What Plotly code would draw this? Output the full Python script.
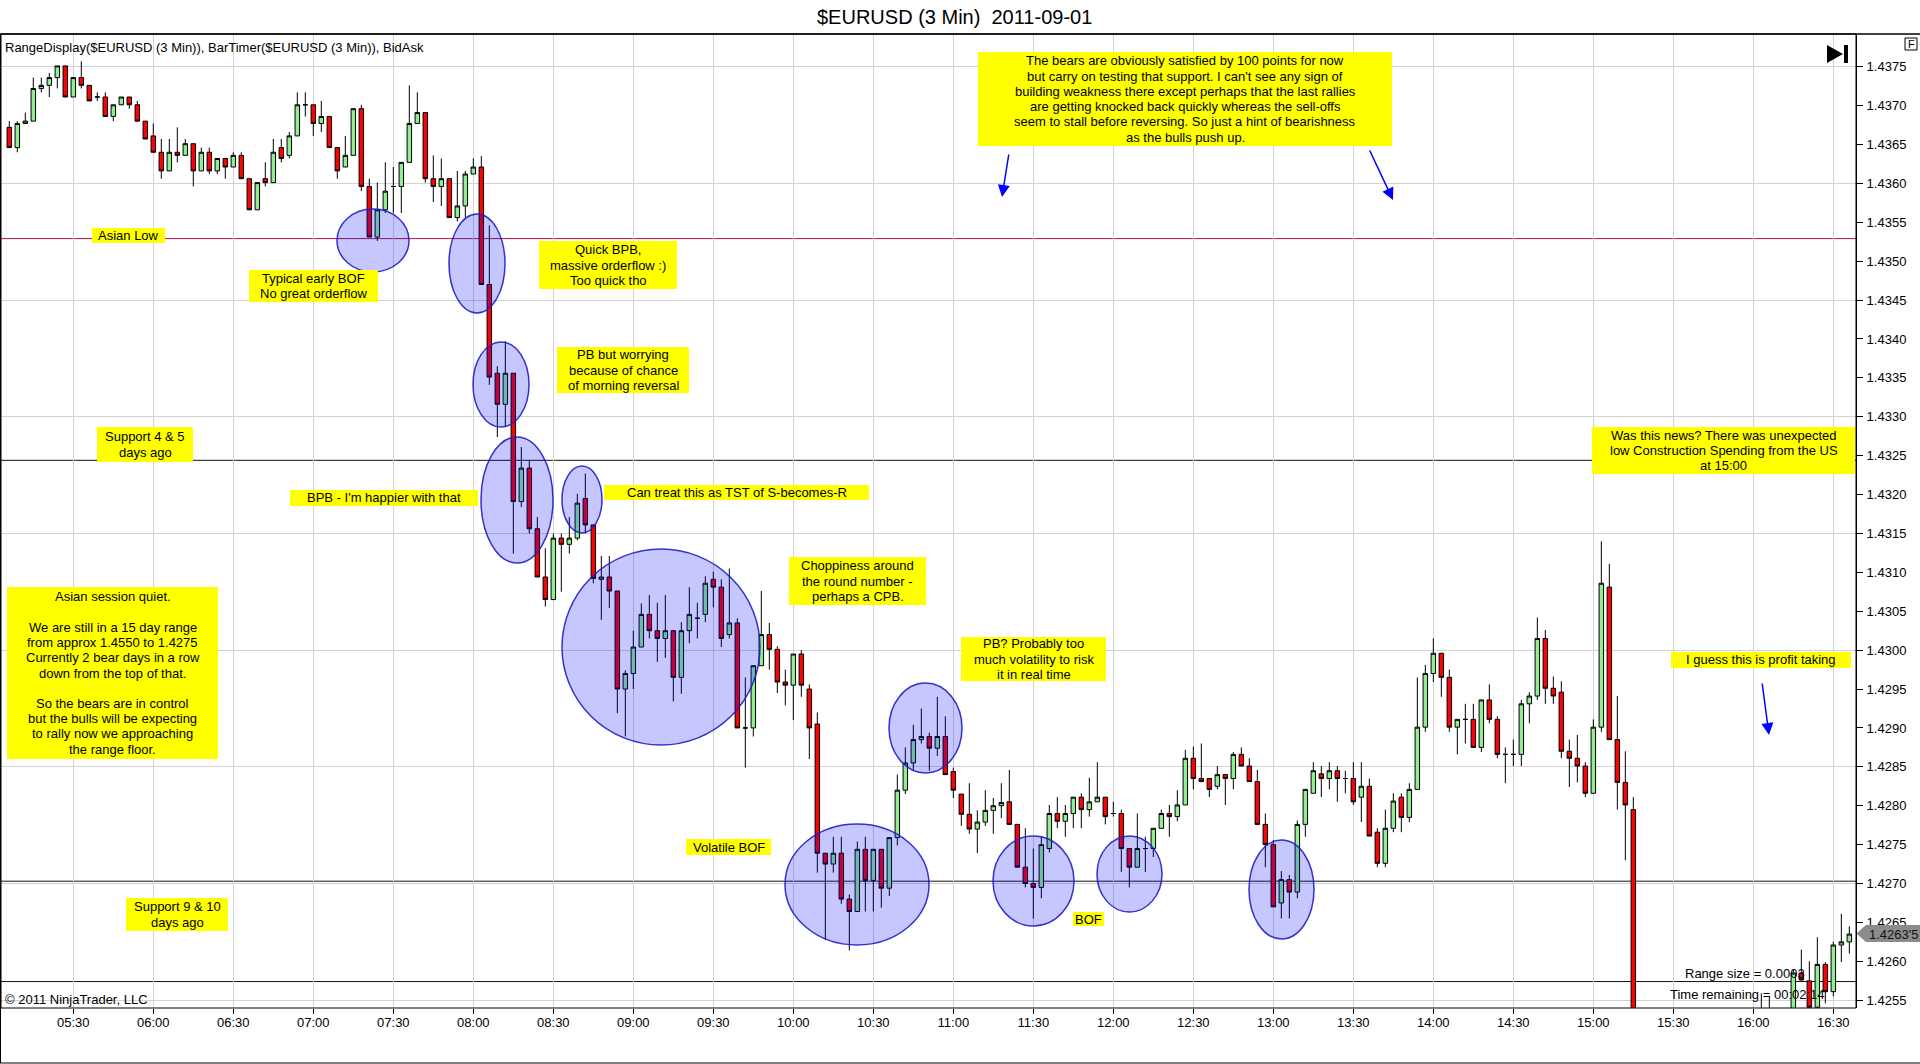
import pandas as pd
import plotly.graph_objects as go

# 3-minute bars of $EURUSD, first bar closes at 05:06
FIRST_BAR = "2011-09-01 05:06"
BAR_MINUTES = 3

OPEN = [
    1.43672, 1.43646, 1.43677, 1.43680, 1.43722, 1.43726, 1.43736, 1.43751, 1.43711, 1.43736,
    1.43726, 1.43711, 1.43711, 1.43686, 1.43701, 1.43711, 1.43701, 1.43680, 1.43661, 1.43640,
    1.43616, 1.43640, 1.43636, 1.43651, 1.43616, 1.43640, 1.43616, 1.43632, 1.43621, 1.43636,
    1.43606, 1.43566, 1.43606, 1.43601, 1.43646, 1.43636, 1.43661, 1.43701, 1.43701, 1.43677,
    1.43686, 1.43646, 1.43621, 1.43636, 1.43696, 1.43596, 1.43531, 1.43566, 1.43596, 1.43596,
    1.43627, 1.43677, 1.43691, 1.43606, 1.43596, 1.43606, 1.43556, 1.43571, 1.43612, 1.43621,
    1.43470, 1.43356, 1.43316, 1.43356, 1.43191, 1.43234, 1.43156, 1.43094, 1.43065, 1.43144,
    1.43136, 1.43144, 1.43195, 1.43161, 1.43091, 1.43094, 1.43076, 1.42950, 1.42970, 1.43004,
    1.43046, 1.43025, 1.43015, 1.43025, 1.42965, 1.43025, 1.43041, 1.43046, 1.43091, 1.43081,
    1.43020, 1.43035, 1.42900, 1.42900, 1.42980, 1.43020, 1.43001, 1.42959, 1.42955, 1.42995,
    1.42950, 1.42905, 1.42739, 1.42725, 1.42739, 1.42680, 1.42664, 1.42744, 1.42704, 1.42744,
    1.42694, 1.42759, 1.42820, 1.42855, 1.42885, 1.42889, 1.42874, 1.42889, 1.42844, 1.42815,
    1.42789, 1.42770, 1.42779, 1.42794, 1.42800, 1.42805, 1.42776, 1.42721, 1.42700, 1.42695,
    1.42745, 1.42790, 1.42780, 1.42790, 1.42811, 1.42795, 1.42805, 1.42811, 1.42790, 1.42790,
    1.42745, 1.42721, 1.42745, 1.42745, 1.42771, 1.42790, 1.42786, 1.42801, 1.42861, 1.42835,
    1.42835, 1.42825, 1.42840, 1.42835, 1.42866, 1.42851, 1.42831, 1.42776, 1.42750, 1.42675,
    1.42705, 1.42689, 1.42776, 1.42816, 1.42841, 1.42835, 1.42845, 1.42835, 1.42835, 1.42811,
    1.42825, 1.42766, 1.42726, 1.42771, 1.42811, 1.42785, 1.42821, 1.42901, 1.42970, 1.42996,
    1.42965, 1.42901, 1.42911, 1.42911, 1.42875, 1.42936, 1.42911, 1.42866, 1.42866, 1.42866,
    1.42931, 1.42941, 1.43015, 1.42951, 1.42946, 1.42870, 1.42861, 1.42851, 1.42816, 1.42901,
    1.43081, 1.42885, 1.42830, 1.42795, 1.42450, 1.42410, 1.42440, 1.42470, 1.42440, 1.42460,
    1.42490, 1.42470, 1.42500, 1.42480, 1.42500, 1.42510, 1.42490, 1.42510, 1.42520, 1.42500,
    1.42520, 1.42510, 1.42520, 1.42515, 1.42585, 1.42575, 1.42541, 1.42596, 1.42561, 1.42621,
    1.42625,
]
HIGH = [
    1.43680, 1.43680, 1.43691, 1.43736, 1.43736, 1.43742, 1.43751, 1.43751, 1.43736, 1.43757,
    1.43726, 1.43717, 1.43717, 1.43701, 1.43711, 1.43711, 1.43706, 1.43680, 1.43677, 1.43657,
    1.43657, 1.43672, 1.43657, 1.43651, 1.43646, 1.43646, 1.43632, 1.43632, 1.43640, 1.43640,
    1.43606, 1.43601, 1.43627, 1.43657, 1.43657, 1.43666, 1.43717, 1.43717, 1.43701, 1.43706,
    1.43686, 1.43646, 1.43661, 1.43696, 1.43701, 1.43606, 1.43601, 1.43627, 1.43621, 1.43627,
    1.43726, 1.43717, 1.43691, 1.43636, 1.43632, 1.43606, 1.43616, 1.43616, 1.43632, 1.43635,
    1.43546, 1.43365, 1.43397, 1.43356, 1.43261, 1.43244, 1.43171, 1.43131, 1.43150, 1.43150,
    1.43171, 1.43201, 1.43227, 1.43161, 1.43121, 1.43121, 1.43076, 1.42974, 1.43025, 1.43060,
    1.43071, 1.43061, 1.43071, 1.43025, 1.43036, 1.43081, 1.43061, 1.43095, 1.43101, 1.43091,
    1.43105, 1.43041, 1.42965, 1.42980, 1.43076, 1.43035, 1.43005, 1.42975, 1.42995, 1.43000,
    1.42956, 1.42920, 1.42739, 1.42760, 1.42760, 1.42686, 1.42754, 1.42760, 1.42744, 1.42744,
    1.42759, 1.42840, 1.42875, 1.42904, 1.42925, 1.42894, 1.42940, 1.42915, 1.42849, 1.42815,
    1.42829, 1.42794, 1.42820, 1.42810, 1.42829, 1.42846, 1.42776, 1.42771, 1.42745, 1.42760,
    1.42801, 1.42811, 1.42801, 1.42811, 1.42816, 1.42836, 1.42856, 1.42811, 1.42805, 1.42795,
    1.42745, 1.42790, 1.42760, 1.42771, 1.42795, 1.42801, 1.42820, 1.42872, 1.42876, 1.42880,
    1.42835, 1.42851, 1.42840, 1.42869, 1.42875, 1.42861, 1.42846, 1.42790, 1.42756, 1.42716,
    1.42711, 1.42781, 1.42821, 1.42856, 1.42851, 1.42856, 1.42851, 1.42845, 1.42856, 1.42856,
    1.42835, 1.42771, 1.42795, 1.42816, 1.42816, 1.42829, 1.42965, 1.42981, 1.43015, 1.42996,
    1.42975, 1.42911, 1.42931, 1.42931, 1.42936, 1.42956, 1.42915, 1.42875, 1.42885, 1.42936,
    1.42946, 1.43042, 1.43026, 1.42966, 1.42960, 1.42885, 1.42891, 1.42856, 1.42911, 1.43140,
    1.43111, 1.42941, 1.42870, 1.42811, 1.42480, 1.42460, 1.42490, 1.42500, 1.42480, 1.42510,
    1.42520, 1.42510, 1.42520, 1.42510, 1.42530, 1.42530, 1.42520, 1.42530, 1.42530, 1.42559,
    1.42555, 1.42530, 1.42535, 1.42589, 1.42615, 1.42600, 1.42631, 1.42599, 1.42625, 1.42661,
    1.42645,
]
LOW = [
    1.43646, 1.43640, 1.43677, 1.43680, 1.43717, 1.43711, 1.43722, 1.43711, 1.43711, 1.43722,
    1.43706, 1.43706, 1.43686, 1.43680, 1.43701, 1.43696, 1.43680, 1.43657, 1.43640, 1.43606,
    1.43616, 1.43627, 1.43636, 1.43596, 1.43616, 1.43612, 1.43612, 1.43606, 1.43621, 1.43606,
    1.43566, 1.43566, 1.43596, 1.43601, 1.43627, 1.43632, 1.43661, 1.43686, 1.43661, 1.43666,
    1.43646, 1.43606, 1.43621, 1.43636, 1.43590, 1.43531, 1.43526, 1.43562, 1.43562, 1.43562,
    1.43627, 1.43677, 1.43601, 1.43576, 1.43571, 1.43556, 1.43551, 1.43556, 1.43612, 1.43470,
    1.43341, 1.43274, 1.43287, 1.43124, 1.43184, 1.43150, 1.43094, 1.43056, 1.43065, 1.43075,
    1.43124, 1.43141, 1.43150, 1.43086, 1.43039, 1.43054, 1.42919, 1.42889, 1.42950, 1.43004,
    1.43015, 1.42985, 1.42990, 1.42934, 1.42944, 1.43009, 1.43015, 1.43036, 1.43055, 1.43004,
    1.43015, 1.42900, 1.42849, 1.42889, 1.42980, 1.42975, 1.42945, 1.42929, 1.42910, 1.42940,
    1.42860, 1.42714, 1.42628, 1.42714, 1.42674, 1.42614, 1.42664, 1.42664, 1.42664, 1.42669,
    1.42684, 1.42749, 1.42815, 1.42845, 1.42880, 1.42845, 1.42864, 1.42840, 1.42810, 1.42774,
    1.42764, 1.42739, 1.42774, 1.42764, 1.42784, 1.42776, 1.42721, 1.42695, 1.42655, 1.42681,
    1.42740, 1.42771, 1.42760, 1.42771, 1.42771, 1.42786, 1.42805, 1.42776, 1.42786, 1.42715,
    1.42695, 1.42721, 1.42715, 1.42734, 1.42771, 1.42760, 1.42780, 1.42801, 1.42821, 1.42831,
    1.42811, 1.42821, 1.42801, 1.42821, 1.42851, 1.42831, 1.42776, 1.42721, 1.42670, 1.42655,
    1.42655, 1.42681, 1.42760, 1.42816, 1.42811, 1.42821, 1.42805, 1.42816, 1.42801, 1.42779,
    1.42761, 1.42721, 1.42721, 1.42766, 1.42766, 1.42779, 1.42821, 1.42895, 1.42959, 1.42940,
    1.42895, 1.42866, 1.42880, 1.42875, 1.42869, 1.42906, 1.42861, 1.42829, 1.42851, 1.42851,
    1.42906, 1.42936, 1.42931, 1.42931, 1.42861, 1.42824, 1.42830, 1.42811, 1.42816, 1.42895,
    1.42885, 1.42795, 1.42730, 1.42420, 1.42380, 1.42370, 1.42400, 1.42420, 1.42410, 1.42440,
    1.42450, 1.42440, 1.42460, 1.42450, 1.42470, 1.42480, 1.42460, 1.42480, 1.42490, 1.42480,
    1.42490, 1.42480, 1.42500, 1.42510, 1.42575, 1.42530, 1.42535, 1.42546, 1.42555, 1.42599,
    1.42610,
]
CLOSE = [
    1.43646, 1.43677, 1.43680, 1.43722, 1.43726, 1.43736, 1.43751, 1.43711, 1.43736, 1.43726,
    1.43706, 1.43711, 1.43686, 1.43701, 1.43711, 1.43701, 1.43680, 1.43657, 1.43640, 1.43616,
    1.43640, 1.43636, 1.43651, 1.43616, 1.43640, 1.43616, 1.43632, 1.43621, 1.43636, 1.43606,
    1.43566, 1.43601, 1.43601, 1.43640, 1.43632, 1.43661, 1.43701, 1.43701, 1.43677, 1.43686,
    1.43646, 1.43616, 1.43636, 1.43696, 1.43596, 1.43531, 1.43566, 1.43590, 1.43596, 1.43627,
    1.43677, 1.43691, 1.43606, 1.43596, 1.43606, 1.43556, 1.43571, 1.43612, 1.43621, 1.43470,
    1.43351, 1.43316, 1.43356, 1.43191, 1.43234, 1.43156, 1.43094, 1.43065, 1.43144, 1.43136,
    1.43144, 1.43189, 1.43161, 1.43092, 1.43094, 1.43076, 1.42950, 1.42970, 1.43004, 1.43046,
    1.43025, 1.43015, 1.43025, 1.42965, 1.43025, 1.43046, 1.43041, 1.43086, 1.43081, 1.43015,
    1.43035, 1.42900, 1.42900, 1.42980, 1.43020, 1.43001, 1.42959, 1.42955, 1.42995, 1.42955,
    1.42900, 1.42739, 1.42725, 1.42739, 1.42680, 1.42664, 1.42744, 1.42704, 1.42744, 1.42694,
    1.42759, 1.42820, 1.42855, 1.42885, 1.42889, 1.42874, 1.42889, 1.42840, 1.42820, 1.42789,
    1.42770, 1.42779, 1.42794, 1.42800, 1.42804, 1.42776, 1.42721, 1.42700, 1.42695, 1.42750,
    1.42790, 1.42780, 1.42790, 1.42811, 1.42795, 1.42805, 1.42811, 1.42786, 1.42790, 1.42745,
    1.42721, 1.42745, 1.42745, 1.42771, 1.42790, 1.42786, 1.42801, 1.42861, 1.42835, 1.42831,
    1.42821, 1.42840, 1.42835, 1.42866, 1.42851, 1.42831, 1.42776, 1.42750, 1.42670, 1.42705,
    1.42689, 1.42776, 1.42821, 1.42845, 1.42835, 1.42845, 1.42835, 1.42835, 1.42805, 1.42825,
    1.42761, 1.42726, 1.42771, 1.42806, 1.42785, 1.42821, 1.42901, 1.42970, 1.42996, 1.42965,
    1.42901, 1.42911, 1.42911, 1.42875, 1.42936, 1.42911, 1.42866, 1.42866, 1.42866, 1.42931,
    1.42941, 1.43015, 1.42951, 1.42941, 1.42870, 1.42861, 1.42851, 1.42816, 1.42901, 1.43086,
    1.42885, 1.42830, 1.42801, 1.42450, 1.42410, 1.42440, 1.42470, 1.42440, 1.42460, 1.42490,
    1.42470, 1.42500, 1.42480, 1.42500, 1.42510, 1.42490, 1.42510, 1.42520, 1.42500, 1.42520,
    1.42510, 1.42520, 1.42510, 1.42585, 1.42576, 1.42541, 1.42596, 1.42561, 1.42621, 1.42625,
    1.42635,
]

# drawn price levels
ASIAN_LOW = 1.43529
SUPPORT_4_5 = 1.43244
SUPPORT_9_10 = 1.42703
RANGE_LINE = 1.42574
LAST_PRICE = 1.42635
LAST_PRICE_TEXT = "1.4263'5"

X_RANGE = ["2011-09-01 05:02:53", "2011-09-01 16:38:30"]
Y_RANGE = [1.42540, 1.43792]

TITLE = "$EURUSD (3 Min)  2011-09-01"
HEADER = "RangeDisplay($EURUSD (3 Min)), BarTimer($EURUSD (3 Min)), BidAsk"
COPYRIGHT = "\u00a9 2011 NinjaTrader, LLC"
RANGE_SIZE = "Range size = 0.0003"
TIME_LEFT = "Time remaining = 00:02:14"

# page geometry in screen pixels
W, H = 1920, 1064
PL, PR, PT, PB = 1, 1856, 34, 1008
FONT = "Arial, Liberation Sans, sans-serif"
LINE_H = 15.2


def _px(x):
    return (x - PL) / (PR - PL)


def _py(y):
    return (PB - y) / (PB - PT)


times = pd.date_range(FIRST_BAR, periods=len(OPEN), freq=f"{BAR_MINUTES}min")

fig = go.Figure(go.Candlestick(
    x=times, open=OPEN, high=HIGH, low=LOW, close=CLOSE,
    increasing=dict(line=dict(color="black", width=1), fillcolor="#90EE90"),
    decreasing=dict(line=dict(color="black", width=1), fillcolor="#FF0000"),
    whiskerwidth=0, showlegend=False, hoverinfo="skip",
))
# invisible point so the labelled price axis gets drawn
fig.add_trace(go.Scatter(x=[times[-1]], y=[LAST_PRICE], yaxis="y2", mode="markers",
                         marker=dict(opacity=0), showlegend=False, hoverinfo="skip"))

shapes = []
annotations = []

# price levels
for level, color in [(ASIAN_LOW, "#A8163F"), (SUPPORT_4_5, "#101010"),
                     (SUPPORT_9_10, "#101010"), (RANGE_LINE, "#101010")]:
    shapes.append(dict(type="line", xref="paper", yref="y", x0=0, x1=1, y0=level, y1=level,
                       line=dict(color=color, width=1), layer="below"))

# highlighted areas (pixel boxes)
ellipses = [
    (337, 209, 409, 272), (449, 214, 505, 313), (473, 342, 529, 427), (481, 437, 553, 563),
    (562, 466, 602, 533), (562, 549, 760, 745), (785, 824, 929, 945), (889, 683, 962, 773),
    (993, 836, 1074, 926), (1097, 836, 1162, 912), (1249, 840, 1314, 939),
]
for x0, y0, x1, y1 in ellipses:
    shapes.append(dict(type="circle", xref="paper", yref="paper",
                       x0=_px(x0), x1=_px(x1), y0=_py(y1), y1=_py(y0),
                       fillcolor="rgba(0,0,255,0.22)", line=dict(color="rgba(30,30,200,0.9)", width=1.5),
                       layer="above"))

notes = [
    ("Asian Low", (92, 228, 165, 243)),
    ("Typical early BOF\nNo great orderflow", (249, 270, 378, 302)),
    ("Quick BPB,\nmassive orderflow :)\nToo quick tho", (539, 241, 677, 289)),
    ("PB but worrying\nbecause of chance\nof morning reversal", (557, 347, 689, 393)),
    ("Support 4 & 5\ndays ago", (97, 427, 193, 462)),
    ("BPB - I'm happier with that", (290, 490, 478, 506)),
    ("Can treat this as TST of S-becomes-R", (604, 485, 869, 500)),
    ("Asian session quiet.\n\nWe are still in a 15 day range\nfrom approx 1.4550 to 1.4275\n"
     "Currently 2 bear days in a row\ndown from the top of that.\n\nSo the bears are in control\n"
     "but the bulls will be expecting\nto rally now we approaching\nthe range floor.", (7, 587, 218, 759)),
    ("Choppiness around\nthe round number -\nperhaps a CPB.", (789, 557, 926, 605)),
    ("PB? Probably too\nmuch volatility to risk\nit in real time", (961, 637, 1106, 681)),
    ("Volatile BOF", (686, 839, 771, 855)),
    ("BOF", (1073, 912, 1104, 926)),
    ("Support 9 & 10\ndays ago", (126, 898, 228, 931)),
    ("The bears are obviously satisfied by 100 points for now\n"
     "but carry on testing that support. I can't see any sign of\n"
     "building weakness there except perhaps that the last rallies\n"
     "are getting knocked back quickly whereas the sell-offs\n"
     "seem to stall before reversing. So just a hint of bearishness\n"
     "as the bulls push up.", (978, 52, 1392, 146)),
    ("Was this news? There was unexpected\nlow Construction Spending from the US\nat 15:00",
     (1592, 427, 1855, 474)),
    ("I guess this is profit taking", (1671, 652, 1851, 668)),
]
for text, (x0, y0, x1, y1) in notes:
    shapes.append(dict(type="rect", xref="paper", yref="paper",
                       x0=_px(x0), x1=_px(x1), y0=_py(y1), y1=_py(y0),
                       fillcolor="#FFFF00", line=dict(width=0), layer="above"))
    lines = text.split("\n")
    yc = (y0 + y1) / 2
    for i, line in enumerate(lines):
        if not line:
            continue
        yl = yc + (i - (len(lines) - 1) / 2) * LINE_H
        annotations.append(dict(text=line, xref="paper", yref="paper", x=_px((x0 + x1) / 2), y=_py(yl),
                                xanchor="center", yanchor="middle", showarrow=False,
                                font=dict(family=FONT, size=13, color="black")))

# arrows: (tail x, tail y, head x, head y)
for tx, ty, hx, hy in [(1009, 153, 1002, 197), (1369, 149, 1393, 200), (1762, 682, 1769, 735)]:
    annotations.append(dict(text="", xref="paper", yref="paper", x=_px(hx), y=_py(hy),
                            ax=tx - hx, ay=ty - hy, showarrow=True, arrowhead=2, arrowsize=1.6,
                            arrowwidth=1.5, arrowcolor="#0000FF", standoff=0))

# fixed texts
annotations += [
    dict(text=TITLE, xref="paper", yref="paper", x=_px(955), y=_py(16.5), xanchor="center",
         yanchor="middle", showarrow=False, font=dict(family=FONT, size=20, color="black")),
    dict(text=HEADER, xref="paper", yref="paper", x=_px(3), y=_py(47.5), xanchor="left",
         yanchor="middle", showarrow=False, font=dict(family=FONT, size=13, color="black")),
    dict(text=COPYRIGHT, xref="paper", yref="paper", x=_px(3), y=_py(999), xanchor="left",
         yanchor="middle", showarrow=False, font=dict(family=FONT, size=13, color="black")),
    dict(text=RANGE_SIZE, xref="paper", yref="paper", x=_px(1745), y=_py(973.5), xanchor="center",
         yanchor="middle", showarrow=False, font=dict(family=FONT, size=13, color="black")),
    dict(text=TIME_LEFT, xref="paper", yref="paper", x=_px(1747), y=_py(994.5), xanchor="center",
         yanchor="middle", showarrow=False, font=dict(family=FONT, size=13, color="black")),
    dict(text="F", xref="paper", yref="paper", x=_px(1911), y=_py(44), xanchor="center",
         yanchor="middle", showarrow=False, font=dict(family=FONT, size=11, color="black")),
]

# last price tag on the axis
ty = 933.5
tag = (f"M {_px(1857)},{_py(ty)} L {_px(1866)},{_py(ty - 8)} L {_px(1920)},{_py(ty - 8)} "
       f"L {_px(1920)},{_py(ty + 8)} L {_px(1866)},{_py(ty + 8)} Z")
shapes.append(dict(type="path", xref="paper", yref="paper", path=tag, fillcolor="#8C8C8C",
                   line=dict(color="#8C8C8C", width=1), layer="above"))
annotations.append(dict(text=LAST_PRICE_TEXT, xref="paper", yref="paper", x=_px(1893), y=_py(ty + 0.5),
                        xanchor="center", yanchor="middle", showarrow=False,
                        font=dict(family=FONT, size=13, color="#111111")))

# play-to-end icon and F box
icon = f"M {_px(1827)},{_py(45)} L {_px(1843)},{_py(54)} L {_px(1827)},{_py(63)} Z"
shapes += [
    dict(type="path", xref="paper", yref="paper", path=icon, fillcolor="black", line=dict(width=0)),
    dict(type="rect", xref="paper", yref="paper", x0=_px(1844), x1=_px(1848), y0=_py(63), y1=_py(45),
         fillcolor="black", line=dict(width=0)),
    dict(type="rect", xref="paper", yref="paper", x0=_px(1905), x1=_px(1917), y0=_py(50), y1=_py(38),
         fillcolor="white", line=dict(color="black", width=1)),
]

# frame
shapes += [
    dict(type="rect", xref="paper", yref="paper", x0=0, x1=1, y0=0, y1=1,
         line=dict(color="black", width=1), layer="above"),
    dict(type="line", xref="paper", yref="paper", x0=_px(0), x1=_px(1920), y0=_py(PT), y1=_py(PT),
         line=dict(color="black", width=1.5)),
    dict(type="line", xref="paper", yref="paper", x0=_px(0), x1=_px(1920), y0=_py(1063), y1=_py(1063),
         line=dict(color="black", width=1)),
    dict(type="line", xref="paper", yref="paper", x0=_px(0.5), x1=_px(0.5), y0=_py(PT), y1=_py(1063),
         line=dict(color="black", width=1)),
]

fig.update_layout(
    width=W, height=H,
    margin=dict(l=PL, r=W - PR, t=PT, b=H - PB),
    paper_bgcolor="white", plot_bgcolor="white",
    boxgap=0.2,
    shapes=shapes, annotations=annotations,
    xaxis=dict(type="date", range=X_RANGE, rangeslider=dict(visible=False),
               tick0="2011-09-01 05:30", dtick=30 * 60 * 1000, tickformat="%H:%M",
               showgrid=True, gridcolor="#D2D2D2", gridwidth=1, zeroline=False,
               ticks="outside", ticklen=5, tickcolor="black", ticklabelstandoff=-3,
               tickfont=dict(family=FONT, size=13, color="black"), showline=False),
    yaxis=dict(range=Y_RANGE, side="right", tick0=1.4255, dtick=0.0015, showgrid=True,
               gridcolor="#D2D2D2", gridwidth=1, zeroline=False, showticklabels=False, ticks=""),
    yaxis2=dict(range=Y_RANGE, overlaying="y", side="right", tick0=1.4255, dtick=0.0005,
                tickformat=".4f", showgrid=False, zeroline=False, ticks="outside", ticklen=6,
                tickcolor="black", tickfont=dict(family=FONT, size=13, color="black"),
                showline=True, linecolor="black", ticklabelstandoff=1),
)

fig.write_html("out.html", config={"displayModeBar": False},
               post_script="document.body.style.margin='0';")
